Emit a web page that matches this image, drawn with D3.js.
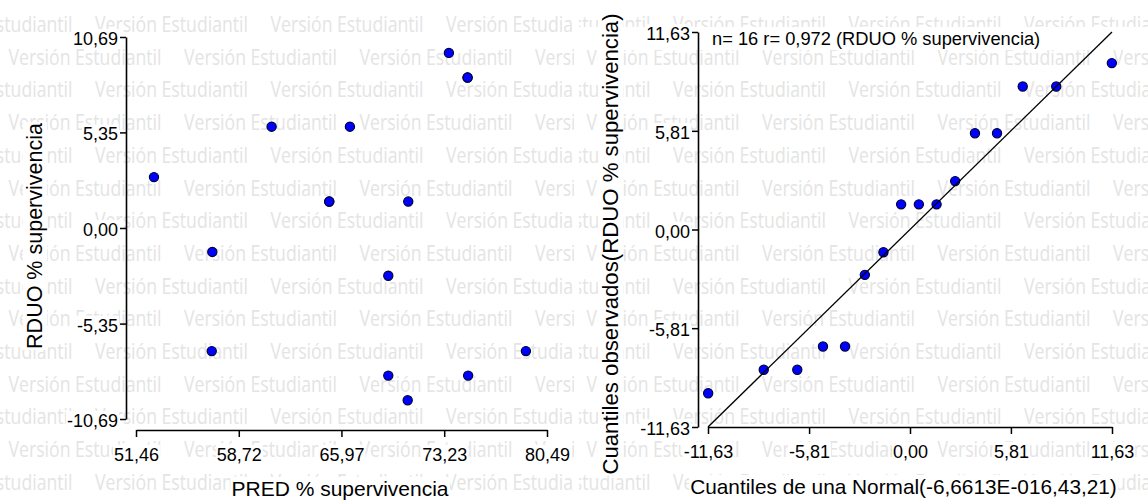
<!DOCTYPE html>
<html><head><meta charset="utf-8">
<script src="https://cdn.jsdelivr.net/npm/d3@7"></script>
<style>html,body{margin:0;padding:0;background:#fff;overflow:hidden}</style>
</head><body>
<svg id="chart" width="1148" height="502"></svg>
<script>
// ---- data ----
const predValues = [52.73, 56.85, 56.81, 61.04, 66.57, 65.11, 65.11, 70.69, 73.56, 74.88, 74.88, 69.28, 69.28, 70.65, 74.92, 79.00];
const rduoValues = [2.85, -1.34, -6.89, 5.67, 5.67, 1.48, 1.48, 1.48, 9.80, 8.42, 8.42, -2.67, -8.26, -9.64, -8.26, -6.89];
const normalQuantiles = [-11.62, -8.42, -6.49, -5.01, -3.74, -2.60, -1.53, -0.51, 0.51, 1.53, 2.60, 3.74, 5.01, 6.49, 8.42, 11.62];
const observedQuantiles = [-9.64, -8.26, -8.26, -6.89, -6.89, -2.67, -1.34, 1.48, 1.48, 1.48, 2.85, 5.67, 5.67, 8.42, 8.42, 9.80];
const leftXTicks = [51.46, 58.72, 65.97, 73.23, 80.49];
const leftXTickLabels = ["51,46", "58,72", "65,97", "73,23", "80,49"];
const leftYTicks = [-10.69, -5.35, 0, 5.35, 10.69];
const leftYTickLabels = ["-10,69", "-5,35", "0,00", "5,35", "10,69"];
const qqTicks = [-11.63, -5.81, 0, 5.81, 11.63];
const qqTickLabels = ["-11,63", "-5,81", "0,00", "5,81", "11,63"];
const leftXTitle = "PRED % supervivencia";
const leftYTitle = "RDUO % supervivencia";
const rightXTitle = "Cuantiles de una Normal(-6,6613E-016,43,21)";
const rightYTitle = "Cuantiles observados(RDUO % supervivencia)";
const annotationText = "n= 16 r= 0,972 (RDUO % supervivencia)";
const watermarkText = "Versión Estudiantil";

const FONT = "'Liberation Sans', Arial, sans-serif";
const svg = d3.select("#chart");
const defs = svg.append("defs");

// ---- watermark ----
function panelWatermark(id, x0, x1, originX) {
  defs.append("clipPath").attr("id", id).append("rect")
    .attr("x", x0).attr("y", 0).attr("width", x1 - x0).attr("height", 502);
  const g = svg.append("g").attr("clip-path", `url(#${id})`);
  for (let k = 0; k < 15; k++) {
    const y = 32 + 32.7 * k;
    const start = (k % 2 === 0) ? -80.5 : 8.5;
    for (let n = 0; n < 5; n++) {
      g.append("text")
        .attr("x", originX + start + n * 175.5).attr("y", y)
        .attr("textLength", 153).attr("lengthAdjust", "spacingAndGlyphs")
        .attr("font-family", "'Open Sans', sans-serif").attr("font-size", 21)
        .attr("fill", "#e4e4e4").text(watermarkText);
    }
  }
}
panelWatermark("clipL", 0, 574, 0);
panelWatermark("clipR", 579, 1148, 578);

// ---- helpers ----
function boxBehind(textNode, pad) {
  pad = pad || 0;
  const b = textNode.getBBox();
  d3.select(textNode.parentNode).insert("rect", () => textNode)
    .attr("x", b.x - pad).attr("y", b.y).attr("width", b.width + 2 * pad).attr("height", b.height)
    .attr("fill", "#fff");
}
function styleAxis(g) {
  g.attr("font-family", FONT).attr("font-size", 18);
  g.select(".domain").attr("stroke", "#000").attr("stroke-width", 1.6);
  g.selectAll(".tick line").attr("stroke", "#000").attr("stroke-width", 1.5);
  g.selectAll(".tick text").attr("fill", "#000").each(function () { boxBehind(this, 1); });
}
function title(x, y, txt, size, rotate) {
  const g = svg.append("g").attr("transform", `translate(${x},${y})` + (rotate ? " rotate(-90)" : ""));
  const t = g.append("text").attr("text-anchor", "middle").attr("font-family", FONT)
    .attr("font-size", size).attr("fill", "#000").text(txt);
  boxBehind(t.node(), 1);
}

// ---- scales ----
const xL = d3.scaleLinear().domain([51.46, 80.49]).range([136, 547]);
const yL = d3.scaleLinear().domain([-10.69, 10.69]).range([419, 37]);
const xR = d3.scaleLinear().domain([-11.63, 11.63]).range([708, 1112]);
const yR = d3.scaleLinear().domain([-11.63, 11.63]).range([427, 32]);

// annotation band (drawn first so the y title stays above it)
svg.append("rect").attr("x", 579).attr("y", 27).attr("width", 569).attr("height", 23).attr("fill", "#fff");
svg.append("text").attr("x", 712).attr("y", 45).attr("font-family", FONT).attr("font-size", 18.3)
  .attr("fill", "#000").text(annotationText);

// ---- titles ----
title(340, 496, leftXTitle, 21, false);
title(42, 236, leftYTitle, 21.5, true);
title(903.5, 494, rightXTitle, 20.8, false);
title(618, 244, rightYTitle, 22.2, true);

// ---- axes ----
const gLX = svg.append("g").attr("transform", "translate(0,430)")
  .call(d3.axisBottom(xL).tickValues(leftXTicks).tickFormat(d => leftXTickLabels[leftXTicks.indexOf(d)])
    .tickSize(7).tickSizeOuter(0).tickPadding(11));
styleAxis(gLX);
const gLY = svg.append("g").attr("transform", "translate(126,0)")
  .call(d3.axisLeft(yL).tickValues(leftYTicks).tickFormat(d => leftYTickLabels[leftYTicks.indexOf(d)])
    .tickSize(6).tickSizeOuter(0).tickPadding(2));
gLY.selectAll(".tick text").attr("dy", "0.42em");
styleAxis(gLY);

const gRX = svg.append("g").attr("transform", "translate(0,427)")
  .call(d3.axisBottom(xR).tickValues(qqTicks).tickFormat(d => qqTickLabels[qqTicks.indexOf(d)])
    .tickSize(7).tickSizeOuter(0).tickPadding(11));
styleAxis(gRX);
const gRY = svg.append("g").attr("transform", "translate(698,0)")
  .call(d3.axisLeft(yR).tickValues(qqTicks).tickFormat(d => qqTickLabels[qqTicks.indexOf(d)])
    .tickSize(6).tickSizeOuter(0).tickPadding(2));
gRY.selectAll(".tick text").attr("dy", "0.42em");
styleAxis(gRY);

// ---- points ----
svg.append("g").selectAll("circle").data(predValues.map((p, i) => [p, rduoValues[i]])).join("circle")
  .attr("cx", d => xL(d[0])).attr("cy", d => yL(d[1])).attr("r", 4.6)
  .attr("fill", "#0000ff").attr("stroke", "#000038").attr("stroke-width", 1.2);

svg.append("g").selectAll("circle").data(normalQuantiles.map((q, i) => [q, observedQuantiles[i]])).join("circle")
  .attr("cx", d => xR(d[0])).attr("cy", d => yR(d[1])).attr("r", 4.6)
  .attr("fill", "#0000ff").attr("stroke", "#000038").attr("stroke-width", 1.2);

// reference line y = x
const refDomain = xR.domain();
svg.append("path").datum(refDomain.map(v => [v, v]))
  .attr("d", d3.line().x(d => xR(d[0])).y(d => yR(d[1])))
  .attr("stroke", "#000").attr("stroke-width", 1.3).attr("fill", "none");
</script>
</body></html>
